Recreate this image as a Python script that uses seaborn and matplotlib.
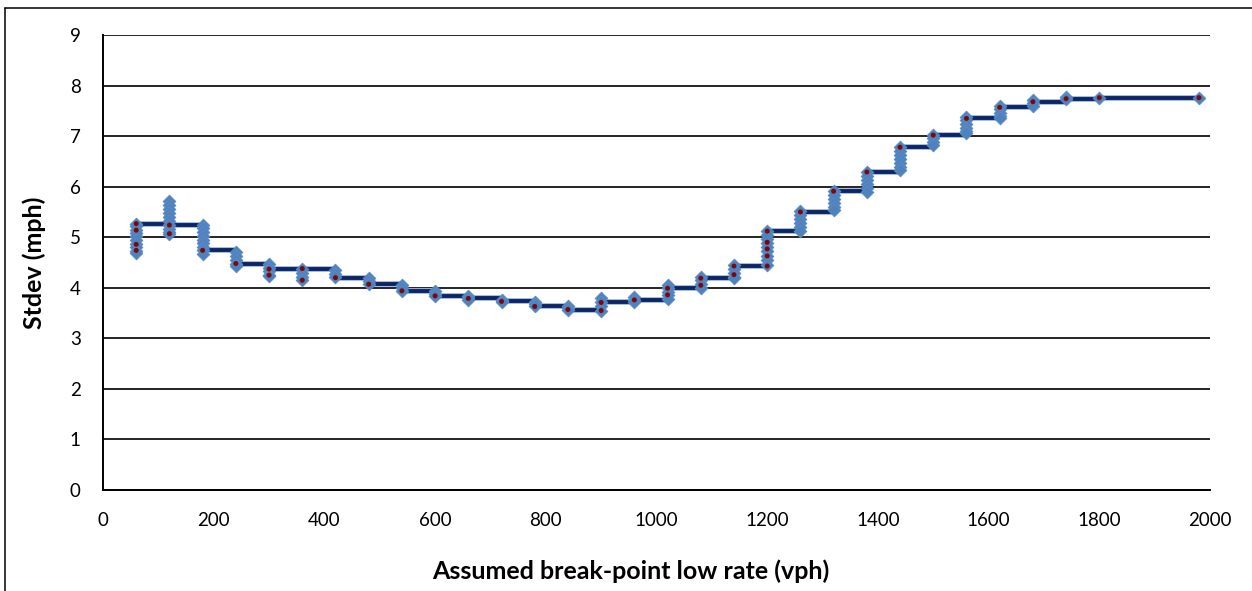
import matplotlib
matplotlib.use("Agg")
import matplotlib.pyplot as plt
from matplotlib.lines import Line2D
import pandas as pd
import seaborn as sns

# Assumed break-point low rate (vph)
rates = [60, 120, 180, 240, 300, 360, 420, 480, 540, 600, 660, 720, 780, 840,
         900, 960, 1020, 1080, 1140, 1200, 1260, 1320, 1380, 1440, 1500, 1560,
         1620, 1680, 1740, 1800, 1980]

# Stdev of every candidate fit at each rate (mph)
candidate_stdev = [
    [5.27, 5.22, 5.15, 5.08, 5.02, 4.95, 4.86, 4.80, 4.73, 4.68],
    [5.71, 5.63, 5.55, 5.47, 5.40, 5.33, 5.24, 5.17, 5.10, 5.07],
    [5.25, 5.18, 5.10, 5.02, 4.95, 4.88, 4.81, 4.74, 4.66],
    [4.71, 4.63, 4.55, 4.48, 4.43],
    [4.48, 4.40, 4.33, 4.26, 4.23],
    [4.38, 4.30, 4.22, 4.15],
    [4.36, 4.28, 4.21],
    [4.20, 4.13, 4.07],
    [4.05, 3.99, 3.94],
    [3.94, 3.88, 3.83],
    [3.84, 3.79, 3.76],
    [3.76, 3.73, 3.71],
    [3.72, 3.67, 3.63],
    [3.63, 3.60, 3.57],
    [3.79, 3.72, 3.63, 3.55],
    [3.82, 3.76, 3.72],
    [4.05, 3.99, 3.92, 3.85, 3.77],
    [4.22, 4.15, 4.07, 3.99],
    [4.45, 4.38, 4.30, 4.22, 4.19],
    [5.13, 5.05, 4.97, 4.88, 4.80, 4.72, 4.63, 4.54, 4.45],
    [5.51, 5.44, 5.36, 5.28, 5.20, 5.12],
    [5.91, 5.84, 5.76, 5.68, 5.60, 5.54],
    [6.29, 6.21, 6.13, 6.05, 5.97, 5.89],
    [6.78, 6.70, 6.62, 6.54, 6.46, 6.39, 6.33],
    [7.03, 6.96, 6.89, 6.82],
    [7.38, 7.31, 7.24, 7.17, 7.10, 7.06],
    [7.60, 7.53, 7.46, 7.39, 7.36],
    [7.71, 7.66, 7.60],
    [7.77, 7.73],
    [7.76],
    [7.76],
]

# Best fits retained at each rate (mph)
selected_stdev = [
    [5.27, 5.14, 4.86, 4.74],
    [5.24, 5.07],
    [4.74],
    [4.48],
    [4.37, 4.25],
    [4.38, 4.15],
    [4.20],
    [4.07],
    [3.94],
    [3.84],
    [3.79],
    [3.73],
    [3.63],
    [3.57],
    [3.71, 3.55],
    [3.76],
    [3.99, 3.86],
    [4.19, 4.05],
    [4.43, 4.26],
    [5.12, 4.90, 4.77, 4.63, 4.43],
    [5.50],
    [5.91],
    [6.29],
    [6.78],
    [7.02],
    [7.35],
    [7.57],
    [7.68],
    [7.74],
    [7.76],
    [7.76],
]

# Minimum stdev envelope (mph)
envelope = [5.27, 5.24, 4.74, 4.48, 4.37, 4.37, 4.20, 4.07, 3.94, 3.84, 3.79,
            3.73, 3.63, 3.57, 3.71, 3.76, 3.99, 4.19, 4.43, 5.12, 5.50, 5.91,
            6.29, 6.78, 7.02, 7.35, 7.57, 7.68, 7.74, 7.76, 7.76]

x_ticks = list(range(0, 2001, 200))
y_ticks = list(range(0, 10))

cand = pd.DataFrame([(r, v) for r, vals in zip(rates, candidate_stdev) for v in vals],
                    columns=["rate", "stdev"])
sel = pd.DataFrame([(r, v) for r, vals in zip(rates, selected_stdev) for v in vals],
                   columns=["rate", "stdev"])
env = pd.DataFrame({"rate": rates, "stdev": envelope})

sns.set_theme(style="white")
plt.rcParams["font.family"] = ["Lato", "DejaVu Sans"]

fig = plt.figure(figsize=(12.52, 5.91), dpi=100)
ax = fig.add_axes([103 / 1252, 1 - 490 / 591, (1210 - 103) / 1252, (490 - 35) / 591])

# envelope line with a pale halo
sns.lineplot(data=env, x="rate", y="stdev", ax=ax, drawstyle="steps-post",
             color="#9fb8dc", linewidth=4.2, zorder=2, sort=False)
sns.lineplot(data=env, x="rate", y="stdev", ax=ax, drawstyle="steps-post",
             color="#0b2566", linewidth=2.8, zorder=2.1, sort=False)

sns.scatterplot(data=cand, x="rate", y="stdev", ax=ax, marker="D", s=42,
                color="#4f81bd", edgecolor="#5b8cc6", linewidth=0.6, zorder=3)
sns.scatterplot(data=sel, x="rate", y="stdev", ax=ax, marker="o", s=13,
                color="#7a0a0a", edgecolor="none", zorder=4)

ax.set_xlim(0, 2000)
ax.set_ylim(0, 9)
ax.set_xticks(x_ticks)
ax.set_yticks(y_ticks)
ax.grid(axis="y", color="black", linewidth=1.2)
ax.set_axisbelow(True)
for side in ("top", "right"):
    ax.spines[side].set_visible(False)
for side in ("left", "bottom"):
    ax.spines[side].set_color("black")
    ax.spines[side].set_linewidth(1.4)
ax.tick_params(axis="both", which="major", direction="out", length=6,
               width=1.2, color="black", labelsize=13.5, labelcolor="black")
ax.tick_params(axis="y", pad=10)
ax.tick_params(axis="x", pad=10)
ax.set_xlabel("Assumed break-point low rate (vph)", fontsize=18,
              fontweight="bold", labelpad=22, color="black")
ax.xaxis.label.set_x(0.477)
ax.set_ylabel("Stdev (mph)", fontsize=18, fontweight="bold", labelpad=17,
              color="black")

# outer frame on the left and top edges
fig.add_artist(Line2D([5 / 1252, 5 / 1252], [0, 1 - 8 / 591], color="black",
                      linewidth=1.1, transform=fig.transFigure))
fig.add_artist(Line2D([5 / 1252, 1], [1 - 8 / 591, 1 - 8 / 591], color="black",
                      linewidth=1.1, transform=fig.transFigure))

fig.savefig("out.png", dpi=100, facecolor="white")
